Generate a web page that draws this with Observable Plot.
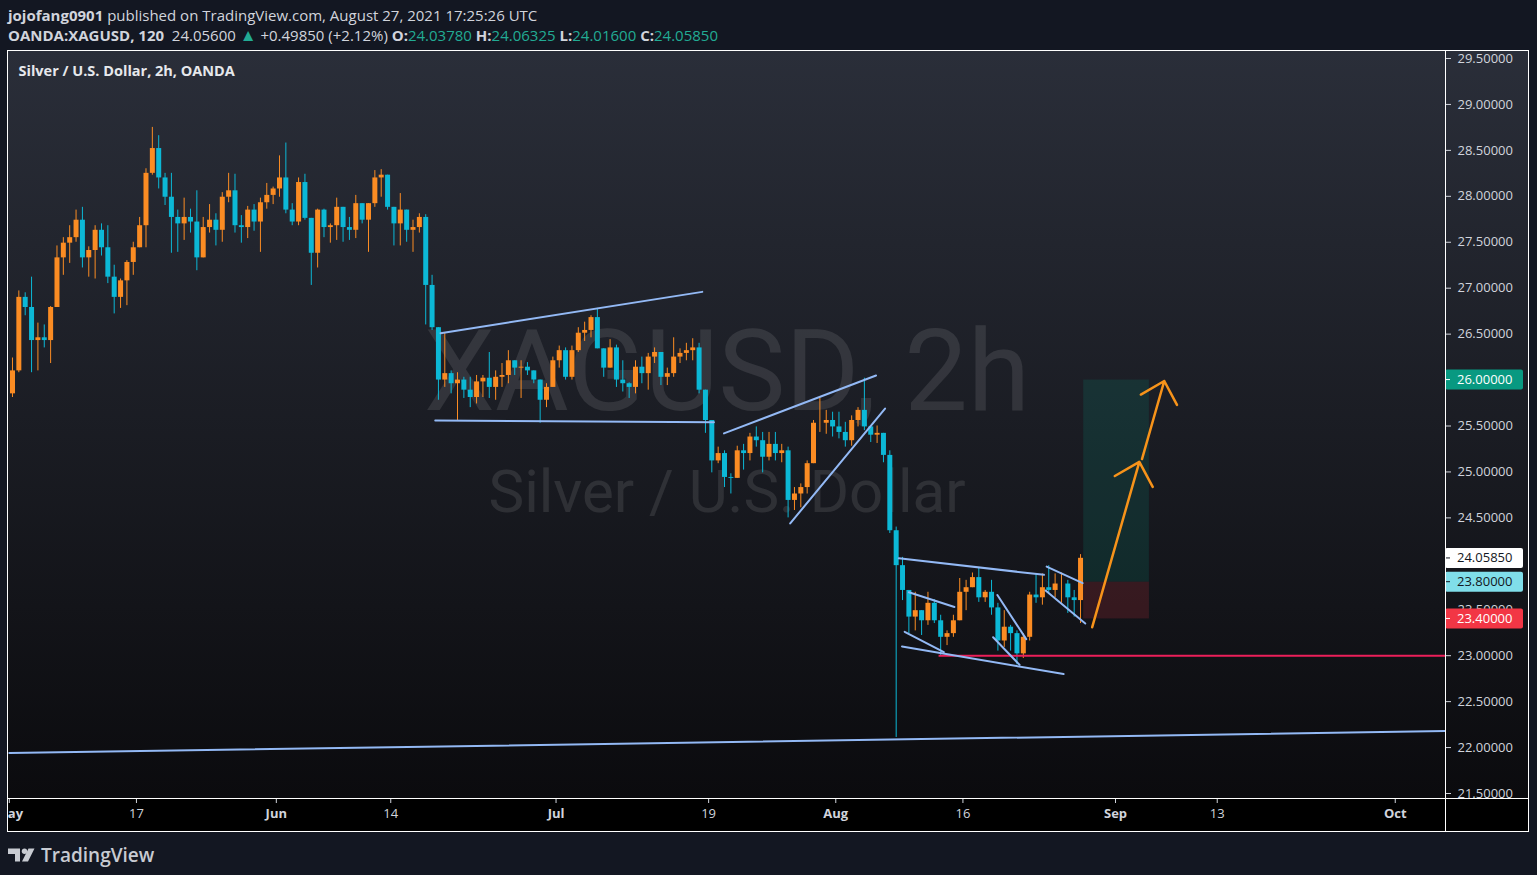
<!DOCTYPE html>
<html><head><meta charset="utf-8">
<script src="https://cdn.jsdelivr.net/npm/d3@7"></script>
<script src="https://cdn.jsdelivr.net/npm/@observablehq/plot@0.6"></script>
<style>
body{margin:0;background:#131722;width:1537px;height:875px;overflow:hidden;position:relative;font-family:"Open Sans",sans-serif;color:#d1d4dc}
.hdr{position:absolute;left:8px;font-size:15px;line-height:20px;white-space:nowrap}
.hdr b{font-weight:700}
.g{color:#22ab94}
#pane{position:absolute;left:7px;top:50px;width:1520px;height:780px;border:1px solid #fff;background:linear-gradient(to bottom,#2a2e39 0px,#0b0b0e 747px,#000 747px,#000 780px)}
#pane svg{position:absolute;left:0;top:0}
.sep{position:absolute;background:#fff}
#logo{position:absolute;left:8px;top:842px;display:flex;align-items:center;gap:6px;color:#c8cbd2;font-size:19px;font-weight:600;font-family:"Open Sans",sans-serif}
</style></head>
<body>
<div class="hdr" style="top:5px"><b>jojofang0901</b> published on TradingView.com, August 27, 2021 17:25:26 UTC</div>
<div class="hdr" style="top:25px"><b>OANDA:XAGUSD, 120</b>&nbsp; 24.05600 <span class="g" style="font-size:17px">▲</span> +0.49850 (+2.12%) <b>O:</b><span class="g">24.03780</span> <b>H:</b><span class="g">24.06325</span> <b>L:</b><span class="g">24.01600</span> <b>C:</b><span class="g">24.05850</span></div>
<div id="pane"></div>
<div id="logo"><svg width="27" height="16" viewBox="0 0 27 16"><path d="M0 1.5h12v13H7V7H0z" fill="#c8cbd2"/><circle cx="16.5" cy="4.2" r="2.7" fill="#c8cbd2"/><path d="M20.5 1.5h6l-6.5 13h-6z" fill="#c8cbd2"/></svg><span>TradingView</span></div>
<script>
// ---------- data ----------
const startDate = "2021-05-03";          // first trading day shown (12h bars in trading time)
const firstOpen = 25.85;
const highs = [26.24,26.97,26.95,27.12,26.62,26.60,26.80,27.46,27.55,27.68,
27.85,27.88,27.45,27.68,27.70,27.68,27.25,27.10,27.30,27.50,
27.77,28.30,28.75,28.66,28.25,28.25,27.85,27.98,27.86,28.06,
27.77,27.91,27.81,28.04,28.25,28.24,27.79,27.89,27.91,27.98,
28.14,28.10,28.44,28.58,27.92,28.20,28.24,27.76,27.86,27.86,
27.70,27.98,27.88,27.77,28.01,27.92,27.92,28.28,28.29,28.23,
27.88,28.03,27.85,27.74,27.81,27.80,27.14,26.57,26.51,26.10,
26.08,26.03,26.03,26.05,26.05,26.30,26.10,26.18,26.32,26.18,
26.21,26.19,26.10,26.00,25.96,26.25,26.37,26.35,26.37,26.57,
26.63,26.70,26.78,26.34,26.44,26.38,26.21,25.97,26.21,26.25,
26.29,26.35,26.30,26.13,26.46,26.34,26.40,26.45,26.40,25.89,
25.56,25.27,25.23,24.98,25.28,25.30,25.42,25.49,25.43,25.43,
25.43,25.30,25.27,24.83,24.87,25.12,25.56,25.80,25.67,25.65,
25.65,25.54,25.61,25.70,26.02,25.49,25.50,25.42,25.23,24.40,
24.07,23.71,23.69,23.49,23.69,23.61,23.44,23.27,23.44,23.84,
23.82,23.90,23.95,23.71,23.82,23.57,23.49,23.33,23.27,23.24,
23.69,23.89,23.89,23.98,23.89,23.90,23.82,23.71,24.10];
const lows = [25.81,26.08,26.70,26.08,26.10,26.35,26.18,26.79,27.14,27.27,
27.50,27.22,27.12,27.10,27.35,27.05,26.72,26.78,26.81,27.14,
27.44,27.44,28.23,28.08,27.90,27.38,27.39,27.52,27.60,27.19,
27.33,27.60,27.46,27.50,27.93,27.60,27.49,27.54,27.62,27.39,
27.86,27.91,27.99,27.81,27.68,27.68,27.74,27.03,27.22,27.55,
27.49,27.52,27.50,27.52,27.54,27.70,27.39,27.88,27.99,27.85,
27.46,27.46,27.50,27.39,27.60,26.60,26.54,25.78,25.92,25.85,
25.56,25.80,25.70,25.74,25.81,25.80,25.78,25.92,25.96,26.05,
25.80,26.05,25.96,25.53,25.70,25.92,26.13,26.00,26.00,26.30,
26.42,26.46,26.34,26.03,26.13,25.92,25.87,25.80,25.85,25.96,
25.89,26.18,25.94,25.94,26.03,26.18,26.21,26.21,25.85,25.42,
24.99,25.09,24.83,24.76,24.93,25.02,25.12,25.27,24.99,25.12,
25.12,25.10,24.50,24.58,24.61,24.76,25.09,25.43,25.41,25.38,
25.36,25.27,25.28,25.49,25.45,25.32,25.31,25.10,24.33,22.11,
23.60,23.24,23.27,23.22,23.33,23.35,23.00,23.11,23.20,23.38,
23.49,23.74,23.58,23.58,23.44,23.05,23.09,23.05,22.90,22.97,
23.16,23.57,23.55,23.68,23.63,23.57,23.46,23.42,23.35];
const closes = [26.10,26.90,26.79,26.43,26.46,26.43,26.79,27.33,27.49,27.55,
27.74,27.33,27.41,27.63,27.44,27.12,26.90,27.08,27.28,27.44,
27.68,28.25,28.52,28.20,27.99,27.77,27.70,27.77,27.72,27.33,
27.66,27.74,27.63,27.99,28.06,27.68,27.66,27.85,27.72,27.93,
28.01,28.08,28.20,27.85,27.72,28.15,27.76,27.38,27.85,27.66,
27.68,27.88,27.66,27.63,27.92,27.74,27.92,28.20,28.23,27.88,
27.70,27.85,27.63,27.66,27.77,27.03,26.57,26.00,26.07,25.96,
26.00,25.89,25.81,25.98,26.02,25.92,26.03,26.05,26.21,26.13,
26.14,26.10,26.00,25.78,25.92,26.21,26.32,26.03,26.32,26.51,
26.54,26.68,26.34,26.13,26.35,26.00,25.96,25.92,26.14,26.07,
26.25,26.30,26.03,26.07,26.25,26.29,26.32,26.35,25.89,25.56,
25.12,25.20,24.94,24.93,25.23,25.20,25.38,25.34,25.16,25.30,
25.20,25.23,24.69,24.76,24.83,25.09,25.53,25.53,25.56,25.49,
25.43,25.34,25.56,25.67,25.49,25.40,25.42,25.18,24.36,23.98,
23.71,23.42,23.49,23.38,23.57,23.38,23.20,23.24,23.38,23.69,
23.74,23.85,23.63,23.69,23.52,23.16,23.31,23.24,23.02,23.20,
23.66,23.63,23.74,23.71,23.78,23.78,23.63,23.60,24.06];

const priceTicks = [21.5,22,22.5,23,23.5,24,24.5,25,25.5,26,26.5,27,27.5,28,28.5,29,29.5];
const monthTickDates = ["2021-05-03","2021-06-01","2021-07-01","2021-08-02","2021-09-01","2021-10-01"];
const monthTickLabels = ["May","Jun","Jul","Aug","Sep","Oct"];
const dayTickDates = ["2021-05-17","2021-06-14","2021-07-19","2021-08-16","2021-09-13"];
const dayTickLabels = ["17","14","19","16","13"];

// drawings: [from date, from price, to date, to price]
const trendLines = [
  ["2021-05-03T00:00",21.94,"2021-10-07T00:00",22.18],
  ["2021-06-17T22:00",26.51,"2021-07-16T12:00",26.96],
  ["2021-06-17T12:00",25.56,"2021-07-19T10:00",25.54],
  ["2021-07-20T05:00",25.42,"2021-08-05T04:00",26.05],
  ["2021-07-27T10:00",24.44,"2021-08-05T21:00",25.69],
  ["2021-08-06T23:00",24.06,"2021-08-24T09:00",23.88],
  ["2021-08-09T05:00",23.10,"2021-08-25T22:00",22.80],
  ["2021-08-09T18:00",23.69,"2021-08-13T08:00",23.53],
  ["2021-08-09T10:00",23.26,"2021-08-12T12:00",23.04],
  ["2021-08-18T17:00",23.66,"2021-08-20T23:30",23.18],
  ["2021-08-18T09:00",23.20,"2021-08-20T11:00",22.90],
  ["2021-08-24T14:00",23.97,"2021-08-27T10:00",23.79],
  ["2021-08-24T12:00",23.71,"2021-08-27T15:00",23.35]
];
const levelLines = [["2021-08-12T02:00",23.0,"2021-10-07T00:00",23.0]];
const arrows = [
  ["2021-08-30T04:00",23.31,"2021-09-02T21:00",25.11],
  ["2021-09-03T02:00",25.14,"2021-09-06T20:00",25.99]
];
const position = {start:"2021-08-27T12:00", end:"2021-09-03T16:00", entry:23.8, target:26.0, stop:23.4};
const badgeValues = [26.0, 24.0585, 23.8, 23.4];
const watermark = ["XAGUSD, 2h", "Silver / U.S. Dollar"];
const chartTitle = ["Silver / U.S. Dollar, 2h, OANDA"];

// ---------- helpers ----------
const DAY = 86400000;
const t0 = Date.parse(startDate + "T00:00Z");
function tIdx(s){ // trading-day index (weekends removed)
  const ms = Date.parse(s.includes("T") ? s + "Z" : s + "T00:00Z");
  const d = (ms - t0) / DAY, day = Math.floor(d), frac = d - day;
  const w = Math.floor(day / 7), dow = day - 7 * w;
  return dow >= 5 ? w * 5 + 5 : w * 5 + dow + frac;
}
const candles = closes.map((c, i) => {
  const o = i === 0 ? firstOpen : closes[i - 1];
  return {t: i * 0.5 + 0.25, o, c, h: Math.max(highs[i], o, c), l: Math.min(lows[i], o, c), up: c >= o};
});
const UP = "#fb8c23", DOWN = "#0cb8d6", LINE = "#93b9f5";
const monthMap = new Map(monthTickDates.map((d, i) => [tIdx(d), monthTickLabels[i]]));
const dayMap = new Map(dayTickDates.map((d, i) => [tIdx(d), dayTickLabels[i]]));

const W = 1520, H = 780, MR = 83, MB = 33;
const plot = Plot.plot({
  width: W, height: H, marginLeft: 0, marginTop: 0, marginRight: MR, marginBottom: MB,
  style: {background: "transparent", overflow: "hidden", fontFamily: "Open Sans, sans-serif", color: "#d1d4dc"},
  x: {type: "linear", domain: [-0.063, 112.953]},
  y: {type: "linear", domain: [21.4456, 29.5762]},
  color: {type: "identity"},
  marks: [
    Plot.text([watermark[0]], {frameAnchor: "middle", dy: -51, fontSize: 113, fontFamily: "Roboto", fill: "rgba(255,255,255,0.10)"}),
    Plot.text([watermark[1]], {frameAnchor: "middle", dy: 68, fontSize: 60, fontFamily: "Roboto", fill: "rgba(255,255,255,0.10)"}),
    Plot.rect([position], {x1: d => tIdx(d.start), x2: d => tIdx(d.end), y1: "entry", y2: "target", fill: "rgba(8,153,129,0.16)"}),
    Plot.rect([position], {x1: d => tIdx(d.start), x2: d => tIdx(d.end), y1: "stop", y2: "entry", fill: "rgba(242,54,69,0.16)"}),
    Plot.ruleX(candles, {x: "t", y1: "l", y2: "h", stroke: d => d.up ? UP : DOWN, strokeWidth: 1}),
    Plot.ruleX(candles, {x: "t", y1: "o", y2: "c", stroke: d => d.up ? UP : DOWN, strokeWidth: 5}),
    Plot.link(levelLines, {x1: d => tIdx(d[0]), y1: d => d[1], x2: d => tIdx(d[2]), y2: d => d[3], stroke: "#ec1f5a", strokeWidth: 2, clip: true}),
    Plot.link(trendLines, {x1: d => tIdx(d[0]), y1: d => d[1], x2: d => tIdx(d[2]), y2: d => d[3], stroke: LINE, strokeWidth: 2, strokeLinecap: "round", clip: true}),
    Plot.arrow(arrows, {x1: d => tIdx(d[0]), y1: d => d[1], x2: d => tIdx(d[2]), y2: d => d[3], stroke: "#f7931a", strokeWidth: 2.5, headLength: 17, headAngle: 88}),
    Plot.axisY({anchor: "right", ticks: priceTicks, tickFormat: d => d.toFixed(5), tickSize: 5, tickPadding: 7, fontSize: 13, color: "#d1d4dc", label: null}),
    Plot.axisX({anchor: "bottom", ticks: [...monthMap.keys()], tickFormat: d => monthMap.get(d), tickSize: 5, tickPadding: 5, fontSize: 13, fontWeight: "bold", color: "#d1d4dc", label: null}),
    Plot.axisX({anchor: "bottom", ticks: [...dayMap.keys()], tickFormat: d => dayMap.get(d), tickSize: 5, tickPadding: 5, fontSize: 13, color: "#d1d4dc", label: null}),
    Plot.text(chartTitle, {frameAnchor: "top-left", textAnchor: "start", lineAnchor: "top", dx: 10, dy: 14, fontSize: 14.5, fontWeight: "bold", fill: "#e6e8ec"})
  ]
});

// price badges through the plot's y scale
const ys = plot.scale("y");
const badgeStyle = [
  {bg: "#089981", fg: "#ffffff"},
  {bg: "#ffffff", fg: "#131722"},
  {bg: "#80deea", fg: "#131722"},
  {bg: "#f23645", fg: "#ffffff"}
];
const gb = d3.select(plot).append("g").attr("text-anchor", "start");
const fx = W - MR;
badgeValues.forEach((v, i) => {
  const y = ys.apply(v);
  gb.append("rect").attr("x", fx).attr("y", y - 10).attr("width", 78).attr("height", 20).attr("rx", 2).attr("fill", badgeStyle[i].bg);
  gb.append("line").attr("x1", fx).attr("x2", fx + 5).attr("y1", y).attr("y2", y).attr("stroke", badgeStyle[i].fg);
  gb.append("text").attr("x", fx + 12).attr("y", y).attr("dy", "0.35em").attr("text-anchor", "start")
    .attr("font-size", 13).attr("fill", badgeStyle[i].fg).text(v.toFixed(5));
});

const pane = document.getElementById("pane");
pane.appendChild(plot);
const sv = document.createElement("div"); sv.className = "sep";
sv.style.cssText = `left:${W - MR}px;top:0;width:1px;height:${H}px`; pane.appendChild(sv);
const sh = document.createElement("div"); sh.className = "sep";
sh.style.cssText = `left:0;top:${H - MB}px;width:${W}px;height:1px`; pane.appendChild(sh);
</script>
</body></html>
